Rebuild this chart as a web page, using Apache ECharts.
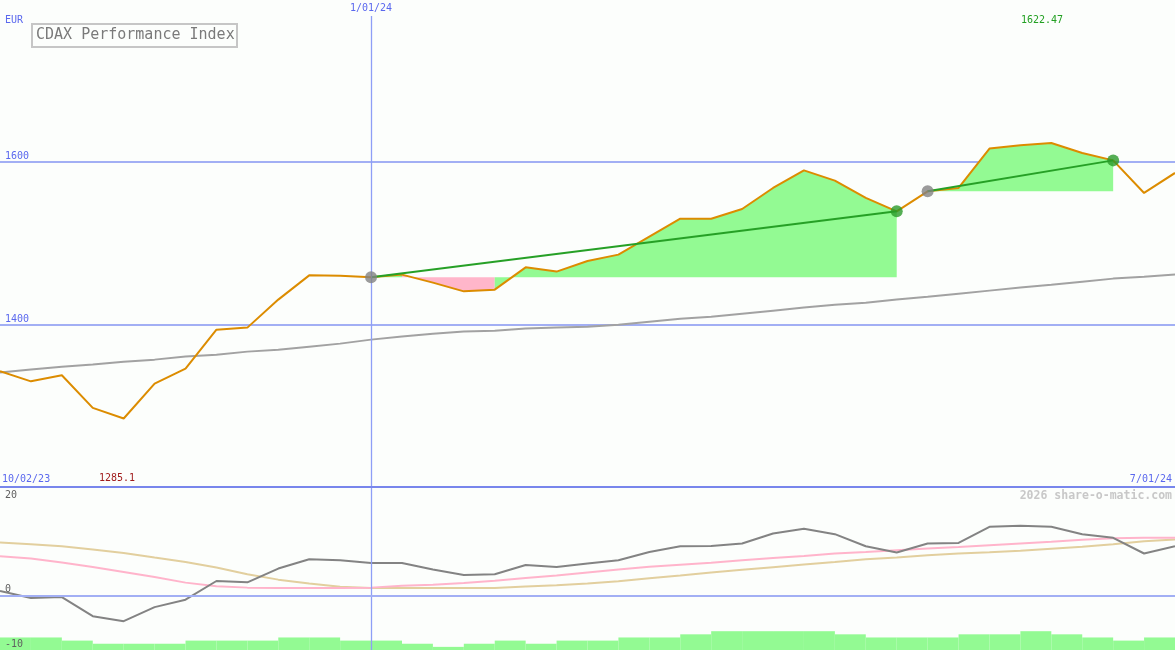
<!DOCTYPE html>
<html><head><meta charset="utf-8">
<script src="https://cdn.jsdelivr.net/npm/echarts@6/dist/echarts.min.js"></script>
<style>html,body{margin:0;padding:0;background:#fcfefc}#c{width:1175px;height:650px}</style>
</head><body><div id="c"></div>
<script>
// ---- data ----
const categories = Array.from({length: 39}, (_, i) => String(i));
const dateTickIndex = [0, 12, 38];
const dateTickText = ['10/02/23', '1/01/24', '7/01/24'];
const priceTicks = [1400, 1600];
const lowerTicks = [-10, 0, 20];

const price = [1342.9, 1330.6, 1338.0, 1298.1, 1285.1, 1327.8, 1346.2, 1393.9, 1396.4, 1430.7,
  1460.4, 1460.0, 1458.0, 1461.3, 1451.5, 1440.8, 1442.9, 1470.2, 1465.0, 1478.0,
  1485.8, 1507.8, 1529.8, 1529.8, 1541.7, 1567.4, 1589.0, 1576.4, 1555.2, 1538.8,
  1563.3, 1567.4, 1615.6, 1619.6, 1622.47, 1610.3, 1601.2, 1561.3, 1585.8];
const ma200 = [1341.3, 1345.0, 1348.6, 1351.1, 1354.7, 1357.2, 1360.9, 1363.3, 1367.0, 1369.4,
  1373.1, 1376.8, 1381.7, 1385.4, 1389.0, 1391.5, 1392.7, 1395.2, 1396.4, 1397.6,
  1400.0, 1403.7, 1407.4, 1409.8, 1413.5, 1417.2, 1420.9, 1424.5, 1427.0, 1430.7,
  1434.3, 1438.0, 1441.7, 1445.4, 1449.0, 1452.7, 1456.4, 1458.8, 1461.3];
const momentum = [0.85, -0.44, -0.26, -3.77, -4.69, -2.11, -0.74, 2.70, 2.46, 4.99,
  6.70, 6.52, 6.02, 6.02, 4.80, 3.80, 3.93, 5.65, 5.28, 5.91,
  6.52, 8.05, 9.10, 9.16, 9.60, 11.45, 12.30, 11.32, 9.10, 7.94,
  9.60, 9.71, 12.67, 12.85, 12.67, 11.32, 10.64, 7.76, 9.10];
const avgPink = [7.26, 6.83, 6.09, 5.28, 4.36, 3.43, 2.40, 1.72, 1.48, 1.40,
  1.40, 1.40, 1.48, 1.81, 2.03, 2.31, 2.75, 3.23, 3.71, 4.27,
  4.80, 5.30, 5.69, 6.06, 6.50, 6.93, 7.29, 7.76, 8.05, 8.37,
  8.70, 8.96, 9.29, 9.61, 9.94, 10.29, 10.55, 10.64, 10.64];
const avgTan = [9.79, 9.47, 9.10, 8.49, 7.87, 7.02, 6.20, 5.17, 3.93, 2.95,
  2.22, 1.66, 1.40, 1.40, 1.40, 1.40, 1.40, 1.68, 1.92, 2.22,
  2.64, 3.19, 3.69, 4.25, 4.76, 5.24, 5.72, 6.20, 6.70, 7.02,
  7.44, 7.76, 8.00, 8.27, 8.64, 9.01, 9.47, 10.03, 10.34];
const barCategories = Array.from({length: 38}, (_, i) => String(i));
const barLevels = [4, 4, 3, 2, 2, 2, 3, 3, 3, 4, 4, 3, 3, 2, 1, 2, 3, 2, 3, 3,
  4, 4, 5, 6, 6, 6, 6, 5, 4, 4, 4, 5, 5, 6, 5, 4, 3, 4];
const tradeEntry = [12, 30];
const tradeExit = [29, 36];

// ---- styles ----
const MONO = '"DejaVu Sans Mono", "Liberation Mono", monospace';
const BLUE = '#5a68ee';
const GRID_BLUE = '#a2aff4';
const VLINE_BLUE = '#8e9ef6';
const GREEN_FILL = '#93fa93';
const PINK_FILL = '#ffb6ca';

const yearMark = {
  silent: true, symbol: 'none', label: {show: false},
  lineStyle: {color: VLINE_BLUE, width: 1.3, type: 'solid', opacity: 1},
  emphasis: {disabled: true},
  data: [{xAxis: dateTickIndex[1]}]
};

const series = [];

// fills between price and trade entry level
tradeEntry.forEach((s, t) => {
  const e = tradeExit[t];
  const base = price[s];
  let segStart = s, cur = null;
  const push = (a, b, col) => {
    series.push({
      type: 'line', xAxisIndex: 0, yAxisIndex: 0, silent: true, z: 1,
      symbol: 'none', lineStyle: {width: 0, opacity: 0},
      areaStyle: {color: col, opacity: 1, origin: base},
      data: categories.map((_, j) => (j >= a && j <= b) ? price[j] : '-')
    });
  };
  for (let i = s; i < e; i++) {
    const col = price[i + 1] >= base ? GREEN_FILL : PINK_FILL;
    if (cur === null) cur = col;
    if (col !== cur) { push(segStart, i, cur); segStart = i; cur = col; }
  }
  push(segStart, e, cur);
});

series.push({
  type: 'line', xAxisIndex: 0, yAxisIndex: 0, z: 2, symbol: 'none', silent: true,
  lineStyle: {color: '#a2a2a2', width: 2}, data: ma200, markLine: yearMark
});
series.push({
  type: 'line', xAxisIndex: 0, yAxisIndex: 0, z: 3, symbol: 'none', silent: true,
  lineStyle: {color: '#dc8c00', width: 2}, data: price
});
tradeEntry.forEach((s, t) => {
  const e = tradeExit[t];
  series.push({
    type: 'line', xAxisIndex: 0, yAxisIndex: 0, z: 4, symbol: 'none', silent: true,
    connectNulls: true, lineStyle: {color: '#26a026', width: 2},
    data: categories.map((_, j) => (j === s || j === e) ? price[j] : '-')
  });
});
series.push({
  type: 'scatter', xAxisIndex: 0, yAxisIndex: 0, z: 5, symbolSize: 12, silent: true,
  itemStyle: {color: '#828282'},
  data: tradeEntry.map(i => [i, price[i]])
});
series.push({
  type: 'scatter', xAxisIndex: 0, yAxisIndex: 0, z: 5, symbolSize: 12, silent: true,
  itemStyle: {color: '#2a9a2a'},
  data: tradeExit.map(i => [i, price[i]])
});

// lower panel
series.push({
  type: 'bar', xAxisIndex: 2, yAxisIndex: 2, silent: true, barWidth: '100%', barCategoryGap: 0, z: 1,
  itemStyle: {color: GREEN_FILL}, data: barLevels
});
series.push({
  type: 'line', xAxisIndex: 1, yAxisIndex: 1, symbol: 'none', silent: true, z: 2,
  lineStyle: {color: '#e2cf9e', width: 2}, data: avgTan, markLine: yearMark
});
series.push({
  type: 'line', xAxisIndex: 1, yAxisIndex: 1, symbol: 'none', silent: true, z: 2,
  lineStyle: {color: '#ffb4cb', width: 2}, data: avgPink
});
series.push({
  type: 'line', xAxisIndex: 1, yAxisIndex: 1, symbol: 'none', silent: true, z: 2,
  lineStyle: {color: '#838383', width: 2}, data: momentum
});

const dateLabel = i => {
  const k = dateTickIndex.indexOf(Number(i));
  return k >= 0 ? dateTickText[k] : '';
};

const option = {
  animation: false,
  backgroundColor: '#fcfefc',
  textStyle: {fontFamily: MONO},
  title: [
    {text: 'EUR', left: 5, top: 15, padding: 0,
      textStyle: {fontSize: 10, color: BLUE, fontWeight: 'normal', fontFamily: MONO}},
    {text: 'CDAX Performance Index', left: 32, top: 24, padding: [4, 3, 4, 4],
      borderColor: '#c6c6c6', borderWidth: 2,
      textStyle: {fontSize: 15, color: '#7a7a7a', fontWeight: 'normal', fontFamily: MONO}},
    {text: '1622.47', left: 1021, top: 15, padding: 0,
      textStyle: {fontSize: 10, color: '#22a022', fontWeight: 'normal', fontFamily: MONO}},
    {text: '1285.1', left: 99, top: 473, padding: 0,
      textStyle: {fontSize: 10, color: '#a01c1c', fontWeight: 'normal', fontFamily: MONO}},
    {text: '2026 share-o-matic.com', right: 3, top: 490, padding: 0,
      textStyle: {fontSize: 11.5, color: '#c8c8c8', fontWeight: 'bold', fontFamily: MONO}}
  ],
  grid: [
    {left: 0, right: 0, top: 16, height: 472, outerBoundsMode: 'none', containLabel: false},
    {left: 0, right: 0, top: 487, bottom: 0, outerBoundsMode: 'none', containLabel: false}
  ],
  xAxis: [
    {gridIndex: 0, type: 'category', data: categories, boundaryGap: false, position: 'top',
      axisLine: {show: false}, axisTick: {show: false}, splitLine: {show: false},
      axisLabel: {interval: i => i === dateTickIndex[1], formatter: dateLabel, margin: 3,
        color: BLUE, fontSize: 10, fontFamily: MONO}},
    {gridIndex: 1, type: 'category', data: categories, boundaryGap: false, position: 'top', z: 6,
      axisLine: {show: true, onZero: false, lineStyle: {color: '#7886ec', width: 2}}, axisTick: {show: false},
      splitLine: {show: false},
      axisLabel: {interval: i => i === dateTickIndex[0] || i === dateTickIndex[2], formatter: dateLabel,
        margin: 3, padding: [0, 3, 0, 2], color: BLUE, fontSize: 10, fontFamily: MONO,
        alignMinLabel: 'left', alignMaxLabel: 'right'}},
    {gridIndex: 1, type: 'category', data: barCategories, boundaryGap: true, show: false}
  ],
  yAxis: [
    {gridIndex: 0, type: 'value', min: 1200, max: 1778, interval: 200,
      axisLine: {show: false}, axisTick: {show: false},
      splitLine: {show: true, lineStyle: {color: ['transparent', GRID_BLUE, GRID_BLUE, 'transparent'], width: 2}},
      axisLabel: {inside: true, margin: 5, verticalAlign: 'bottom', color: BLUE, fontSize: 10, fontFamily: MONO,
        formatter: v => priceTicks.includes(v) ? String(v) : ''}},
    {gridIndex: 1, type: 'value', min: -10, max: 20, interval: 10, z: 6,
      axisLine: {show: false}, axisTick: {show: false},
      splitLine: {show: true, lineStyle: {color: ['transparent', GRID_BLUE, 'transparent', 'transparent'], width: 2}},
      axisLabel: {inside: true, margin: 5, verticalAlign: 'bottom', verticalAlignMaxLabel: 'top',
        padding: [3, 0, 1, 0], color: '#606060', fontSize: 10, fontFamily: MONO,
        formatter: v => lowerTicks.includes(v) ? String(v) : ''}},
    {gridIndex: 1, type: 'value', min: 0, max: 52, show: false}
  ],
  series: series
};

const chart = echarts.init(document.getElementById('c'), null, {renderer: 'canvas'});
chart.setOption(option);
</script></body></html>
